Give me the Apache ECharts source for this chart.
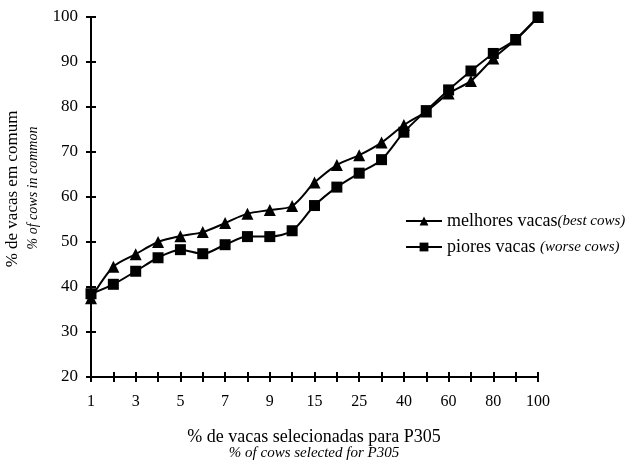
<!DOCTYPE html>
<html>
<head>
<meta charset="utf-8">
<script src="https://cdn.jsdelivr.net/npm/echarts@6/dist/echarts.min.js"></script>
<style>
  html, body { margin: 0; padding: 0; background: #fff; }
  #main { width: 633px; height: 460px; }
</style>
</head>
<body>
<div id="main"></div>
<script>
// categorias do eixo x (% de vacas selecionadas)
var categories = ['1', '2', '3', '4', '5', '6', '7', '8', '9', '10', '15', '20', '25', '30', '40', '50', '60', '70', '80', '90', '100'];
// melhores vacas (best cows)
var melhores = [37.5, 44.5, 47.3, 50, 51.3, 52.2, 54.2, 56.3, 57.1, 58, 63.2, 67.1, 69.3, 72.1, 76, 79, 83, 85.8, 90.8, 95, 100];
// piores vacas (worse cows)
var piores = [38.5, 40.6, 43.5, 46.5, 48.3, 47.4, 49.4, 51.2, 51.2, 52.5, 58.1, 62.2, 65.3, 68.3, 74.4, 79.2, 83.8, 88, 91.9, 95, 100];
var yTicks = [20, 30, 40, 50, 60, 70, 80, 90, 100];

var font = 'Liberation Serif';
var myChart = echarts.init(document.getElementById('main'));

myChart.setOption({
  backgroundColor: '#fff',
  animation: false,
  textStyle: { fontFamily: font, color: '#000' },
  grid: { left: 91, right: 95, top: 17, bottom: 83 },
  legend: {
    orient: 'vertical',
    left: 400,
    top: 207,
    itemWidth: 36,
    itemHeight: 11,
    itemGap: 8,
    data: ['melhores', 'piores'],
    formatter: function (name) {
      if (name === 'melhores') return '{a|melhores vacas}{b|(best cows)}';
      return '{a|piores vacas }{b|(worse cows)}';
    },
    textStyle: {
      rich: {
        a: { fontFamily: font, fontSize: 18, color: '#000' },
        b: { fontFamily: font, fontSize: 15, fontStyle: 'italic', color: '#000' }
      }
    }
  },
  xAxis: [
    {
      type: 'category',
      data: categories,
      boundaryGap: false,
      axisLine: { lineStyle: { color: '#000', width: 2 } },
      axisTick: { interval: 0, length: 5, lineStyle: { color: '#000', width: 2 } },
      axisLabel: { interval: 1, margin: 17, fontSize: 16, color: '#000', fontFamily: font },
      splitLine: { show: false }
    },
    {
      // ticks por dentro (cruzando o eixo)
      type: 'category',
      data: categories,
      boundaryGap: false,
      position: 'bottom',
      axisLine: { show: false },
      axisTick: { interval: 0, inside: true, length: 5, lineStyle: { color: '#000', width: 2 } },
      axisLabel: { show: false },
      splitLine: { show: false }
    }
  ],
  yAxis: [
    {
      type: 'value',
      min: yTicks[0],
      max: yTicks[yTicks.length - 1],
      interval: 10,
      position: 'left',
      axisLine: { show: true, lineStyle: { color: '#000', width: 2 } },
      axisTick: { show: true, length: 5, lineStyle: { color: '#000', width: 2 } },
      axisLabel: { margin: 13, fontSize: 17, color: '#000', fontFamily: font },
      splitLine: { show: false }
    },
    {
      type: 'value',
      min: yTicks[0],
      max: yTicks[yTicks.length - 1],
      interval: 10,
      position: 'left',
      axisLine: { show: false },
      axisTick: { show: true, inside: true, length: 5, lineStyle: { color: '#000', width: 2 } },
      axisLabel: { show: false },
      splitLine: { show: false }
    }
  ],
  graphic: [
    {
      type: 'text', x: 13, y: 189, rotation: Math.PI / 2,
      style: { text: '% de vacas em comum', font: '17px "Liberation Serif"', fill: '#000', align: 'center', verticalAlign: 'middle' }
    },
    {
      type: 'text', x: 33, y: 188, rotation: Math.PI / 2,
      style: { text: '% of cows in common', font: 'italic 14px "Liberation Serif"', fill: '#000', align: 'center', verticalAlign: 'middle' }
    },
    {
      type: 'text', x: 314, y: 437,
      style: { text: '% de vacas selecionadas para P305', font: '18px "Liberation Serif"', fill: '#000', align: 'center', verticalAlign: 'middle' }
    },
    {
      type: 'text', x: 314, y: 453,
      style: { text: '% of cows selected for P305', font: 'italic 15px "Liberation Serif"', fill: '#000', align: 'center', verticalAlign: 'middle', letterSpacing: 0.7 }
    }
  ],
  series: [
    {
      name: 'melhores',
      type: 'line',
      data: melhores,
      smooth: 0.3,
      symbol: 'triangle',
      symbolSize: 12,
      lineStyle: { color: '#000', width: 2 },
      itemStyle: { color: '#000' }
    },
    {
      name: 'piores',
      type: 'line',
      data: piores,
      smooth: 0.3,
      symbol: 'rect',
      symbolSize: 11,
      lineStyle: { color: '#000', width: 2 },
      itemStyle: { color: '#000' }
    }
  ]
});
</script>
</body>
</html>
